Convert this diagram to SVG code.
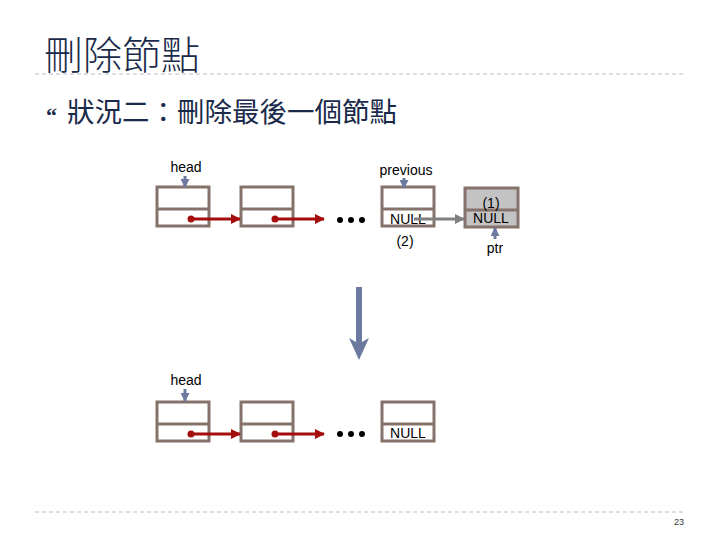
<svg xmlns="http://www.w3.org/2000/svg" width="720" height="540" viewBox="0 0 720 540">
<style>
.node{fill:#fff;stroke:#85736b;stroke-width:3}
.gnode{fill:#c3c3c3;stroke:#85736b;stroke-width:3}
.lbl{font-family:"Liberation Sans",Arial,sans-serif;font-size:14px;fill:#000}
.red{stroke:#a50d0d;stroke-width:3;fill:none}
.gray{stroke:#808080;stroke-width:3;fill:none}
.blue{stroke:#6c7aa0;stroke-width:3;fill:none}
.dash{stroke:#b8bcc4;stroke-width:1;stroke-dasharray:4 3}
</style>
<defs>
<marker id="mr" markerWidth="10" markerHeight="10" refX="9" refY="5" orient="auto" markerUnits="userSpaceOnUse"><path d="M0,0 L10,5 L0,10 z" fill="#a50d0d"/></marker>
<marker id="mg" markerWidth="10" markerHeight="10" refX="9" refY="5" orient="auto" markerUnits="userSpaceOnUse"><path d="M0,0 L10,5 L0,10 z" fill="#808080"/></marker>
<marker id="mb" markerWidth="9" markerHeight="9" refX="8" refY="4.5" orient="auto" markerUnits="userSpaceOnUse"><path d="M0,0 L9,4.5 L0,9 z" fill="#6c7aa0"/></marker>
</defs>
<rect width="720" height="540" fill="#fff"/>
<text x="44" y="69" font-family="'Noto Sans CJK TC','Noto Sans CJK SC',sans-serif" font-size="39" font-weight="300" fill="#1a2a4a">刪除節點</text>
<line class="dash" x1="35" y1="74" x2="686" y2="74"/>
<line class="dash" x1="35" y1="512" x2="686" y2="512"/>
<text x="46" y="123" font-family="'Liberation Serif',serif" font-size="22" font-weight="bold" fill="#1a2a4a">“</text>
<text x="67" y="122" font-family="'Noto Sans CJK TC','Noto Sans CJK SC',sans-serif" font-size="27.5" fill="#1a2a4a">狀況二：刪除最後一個節點</text>
<text x="684" y="525" text-anchor="end" font-family="'Liberation Sans',Arial,sans-serif" font-size="9" fill="#333">23</text>

<g id="node1"><rect class="node" x="157" y="187" width="52" height="39"/><line class="node" x1="157" y1="209" x2="209" y2="209"/></g>
<g id="node2"><rect class="node" x="241" y="187" width="52" height="39"/><line class="node" x1="241" y1="209" x2="293" y2="209"/></g>
<g id="node3"><rect class="node" x="382" y="187" width="52" height="39"/><line class="node" x1="382" y1="209" x2="434" y2="209"/><text class="lbl" x="408" y="224" text-anchor="middle">NULL</text></g>
<g id="node4"><rect class="gnode" x="465" y="188" width="53" height="39"/><line class="node" x1="465" y1="210" x2="518" y2="210"/><text class="lbl" x="491" y="208" text-anchor="middle" font-size="16">(1)</text><text class="lbl" x="491" y="223" text-anchor="middle" font-size="13">NULL</text></g>
<g id="node5"><rect class="node" x="157" y="402" width="52" height="39"/><line class="node" x1="157" y1="424" x2="209" y2="424"/></g>
<g id="node6"><rect class="node" x="241" y="402" width="52" height="39"/><line class="node" x1="241" y1="424" x2="293" y2="424"/></g>
<g id="node7"><rect class="node" x="382" y="402" width="52" height="39"/><line class="node" x1="382" y1="424" x2="434" y2="424"/><text class="lbl" x="408" y="438" text-anchor="middle">NULL</text></g>

<g id="labels">
<text class="lbl" x="186" y="172" text-anchor="middle">head</text>
<text class="lbl" x="406" y="175" text-anchor="middle">previous</text>
<text class="lbl" x="405" y="246" text-anchor="middle" font-size="15">(2)</text>
<text class="lbl" x="495" y="253" text-anchor="middle">ptr</text>
<text class="lbl" x="186" y="385" text-anchor="middle">head</text>
<g fill="#000"><circle cx="340" cy="220" r="3"/><circle cx="351" cy="220" r="3"/><circle cx="362" cy="220" r="3"/><circle cx="340" cy="434" r="3"/><circle cx="351" cy="434" r="3"/><circle cx="362" cy="434" r="3"/></g>
</g>

<g id="connectors">
<circle cx="191" cy="219" r="3.5" fill="#a50d0d"/><line class="red" x1="191" y1="219" x2="240" y2="219" marker-end="url(#mr)"/>
<circle cx="275" cy="219" r="3.5" fill="#a50d0d"/><line class="red" x1="275" y1="219" x2="324" y2="219" marker-end="url(#mr)"/>
<circle cx="191" cy="434" r="3.5" fill="#a50d0d"/><line class="red" x1="191" y1="434" x2="240" y2="434" marker-end="url(#mr)"/>
<circle cx="275" cy="434" r="3.5" fill="#a50d0d"/><line class="red" x1="275" y1="434" x2="324" y2="434" marker-end="url(#mr)"/>
<line class="gray" x1="414" y1="219" x2="464" y2="219" marker-end="url(#mg)"/>
<line class="blue" x1="185" y1="176" x2="185" y2="187" marker-end="url(#mb)"/>
<line class="blue" x1="404" y1="178" x2="404" y2="188" marker-end="url(#mb)"/>
<line class="blue" x1="495" y1="239" x2="495" y2="228" marker-end="url(#mb)"/>
<line class="blue" x1="185" y1="389" x2="185" y2="401" marker-end="url(#mb)"/>
<path d="M356,287 L362,287 L362,342 L369,338 L359,360 L349,338 L356,342 Z" fill="#6c7aa0"/>
</g>
</svg>
